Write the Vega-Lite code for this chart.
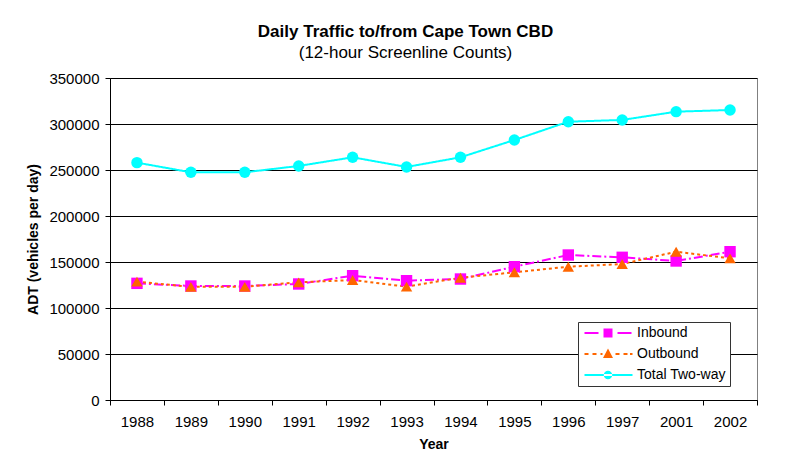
{
  "$schema": "https://vega.github.io/schema/vega-lite/v6.json",
  "width": 647,
  "height": 322,
  "autosize": "none",
  "padding": {"left": 110, "top": 78, "right": 42, "bottom": 69},
  "background": "white",
  "title": {
    "text": "Daily Traffic to/from Cape Town CBD",
    "subtitle": "(12-hour Screenline Counts)",
    "anchor": "middle",
    "dx": -28,
    "offset": 9,
    "font": "Liberation Sans",
    "fontSize": 17,
    "fontWeight": "bold",
    "color": "black",
    "subtitleFont": "Liberation Sans",
    "subtitleFontSize": 17,
    "subtitleColor": "black",
    "subtitlePadding": 4
  },
  "config": {
    "font": "Liberation Sans",
    "view": {"stroke": "#808080", "strokeWidth": 1},
    "axis": {
      "labelFont": "Liberation Sans",
      "labelFontSize": 15,
      "labelColor": "black",
      "titleFont": "Liberation Sans",
      "titleFontSize": 14,
      "titleFontWeight": "bold",
      "titleColor": "black",
      "domainColor": "black",
      "tickColor": "black",
      "tickSize": 5
    },
    "legend": {
      "labelFont": "Liberation Sans",
      "labelFontSize": 14,
      "labelColor": "black"
    }
  },
  "data": {
    "values": [
      {"year": "1988", "series": "Inbound", "value": 126800},
      {"year": "1989", "series": "Inbound", "value": 123900},
      {"year": "1990", "series": "Inbound", "value": 123900},
      {"year": "1991", "series": "Inbound", "value": 126100},
      {"year": "1992", "series": "Inbound", "value": 135100},
      {"year": "1993", "series": "Inbound", "value": 129700},
      {"year": "1994", "series": "Inbound", "value": 131500},
      {"year": "1995", "series": "Inbound", "value": 144900},
      {"year": "1996", "series": "Inbound", "value": 157600},
      {"year": "1997", "series": "Inbound", "value": 155100},
      {"year": "2001", "series": "Inbound", "value": 151100},
      {"year": "2002", "series": "Inbound", "value": 161200},
      {"year": "1988", "series": "Outbound", "value": 128600},
      {"year": "1989", "series": "Outbound", "value": 123000},
      {"year": "1990", "series": "Outbound", "value": 123000},
      {"year": "1991", "series": "Outbound", "value": 127900},
      {"year": "1992", "series": "Outbound", "value": 130400},
      {"year": "1993", "series": "Outbound", "value": 123200},
      {"year": "1994", "series": "Outbound", "value": 132900},
      {"year": "1995", "series": "Outbound", "value": 138800},
      {"year": "1996", "series": "Outbound", "value": 144900},
      {"year": "1997", "series": "Outbound", "value": 147800},
      {"year": "2001", "series": "Outbound", "value": 161200},
      {"year": "2002", "series": "Outbound", "value": 154000},
      {"year": "1988", "series": "Total Two-way", "value": 258000},
      {"year": "1989", "series": "Total Two-way", "value": 247500},
      {"year": "1990", "series": "Total Two-way", "value": 247500},
      {"year": "1991", "series": "Total Two-way", "value": 254400},
      {"year": "1992", "series": "Total Two-way", "value": 263800},
      {"year": "1993", "series": "Total Two-way", "value": 253300},
      {"year": "1994", "series": "Total Two-way", "value": 263800},
      {"year": "1995", "series": "Total Two-way", "value": 282600},
      {"year": "1996", "series": "Total Two-way", "value": 302500},
      {"year": "1997", "series": "Total Two-way", "value": 304400},
      {"year": "2001", "series": "Total Two-way", "value": 313400},
      {"year": "2002", "series": "Total Two-way", "value": 315200}
    ]
  },
  "encoding": {
    "x": {
      "field": "year",
      "type": "ordinal",
      "bandPosition": 0.5,
      "scale": {"type": "band", "paddingInner": 0, "paddingOuter": 0},
      "axis": {"title": "Year", "labelAngle": 0, "tickBand": "extent", "labelPadding": 9, "titlePadding": 8, "grid": false}
    },
    "y": {
      "field": "value",
      "type": "quantitative",
      "scale": {"domain": [0, 350000], "nice": false},
      "axis": {
        "title": "ADT (vehicles per day)",
        "values": [0, 50000, 100000, 150000, 200000, 250000, 300000, 350000],
        "format": "d",
        "grid": true,
        "gridColor": "black",
        "gridOpacity": 1,
        "labelPadding": 6,
        "titlePadding": 8
      }
    }
  },
  "layer": [
    {
      "mark": {"type": "line", "strokeWidth": 2},
      "encoding": {
        "color": {
          "field": "series", "type": "nominal",
          "scale": {"domain": ["Inbound", "Outbound", "Total Two-way"], "range": ["#FF00FF", "#FF6600", "#00FFFF"]},
          "legend": null
        },
        "strokeDash": {
          "field": "series", "type": "nominal",
          "scale": {"domain": ["Inbound", "Outbound", "Total Two-way"], "range": [[9, 3, 2, 3], [3, 3], [1, 0]]},
          "legend": null
        }
      }
    },
    {
      "mark": {"type": "point", "filled": true, "opacity": 1, "size": 130},
      "encoding": {
        "color": {
          "field": "series", "type": "nominal",
          "scale": {"domain": ["Inbound", "Outbound", "Total Two-way"], "range": ["#FF00FF", "#FF6600", "#00FFFF"]},
          "legend": null
        },
        "shape": {
          "field": "series", "type": "nominal",
          "scale": {"domain": ["Inbound", "Outbound", "Total Two-way"], "range": ["square", "triangle-up", "circle"]},
          "legend": null
        }
      }
    },
    {
      "transform": [{"filter": {"field": "value", "lt": 0}}],
      "mark": {"type": "point", "filled": true, "opacity": 1},
      "encoding": {
        "color": {
          "field": "series", "type": "nominal",
          "scale": {"domain": ["Inbound", "Outbound", "Total Two-way"], "range": ["#FF00FF", "#FF6600", "#00FFFF"]},
          "legend": {
            "title": null,
            "orient": "none",
            "legendX": 468,
            "legendY": 244,
            "strokeColor": "#333333",
            "fillColor": "white",
            "padding": 4,
            "symbolSize": 100,
            "symbolStrokeWidth": 0,
            "symbolOffset": 19,
            "rowPadding": 7,
            "labelOffset": 22
          }
        },
        "shape": {
          "field": "series", "type": "nominal",
          "scale": {
            "domain": ["Inbound", "Outbound", "Total Two-way"],
            "range": [
              "M-4.7,-0.2L-1.9,-0.2L-1.9,0.2L-4.7,0.2Z M-0.9,-0.9L0.9,-0.9L0.9,0.9L-0.9,0.9Z M1.9,-0.2L4.7,-0.2L4.7,0.2L1.9,0.2Z",
              "M-4.7,-0.2L-3.9,-0.2L-3.9,0.2L-4.7,0.2Z M-3.1,-0.2L-2.3,-0.2L-2.3,0.2L-3.1,0.2Z M-1.5,-0.2L-1.1,-0.2L-1.1,0.2L-1.5,0.2Z M0,-1.1L1,0.8L-1,0.8Z M1.5,-0.2L2.3,-0.2L2.3,0.2L1.5,0.2Z M3.1,-0.2L3.9,-0.2L3.9,0.2L3.1,0.2Z M4.4,-0.2L4.9,-0.2L4.9,0.2L4.4,0.2Z",
              "M-4.7,-0.2L4.9,-0.2L4.9,0.2L-4.7,0.2Z M-0.85,0A0.85,0.85 0 1,0 0.85,0A0.85,0.85 0 1,0 -0.85,0Z"
            ]
          },
          "legend": {
            "title": null,
            "orient": "none",
            "legendX": 468,
            "legendY": 244
          }
        }
      }
    }
  ],
  "resolve": {"scale": {"color": "independent", "shape": "independent"}}
}
